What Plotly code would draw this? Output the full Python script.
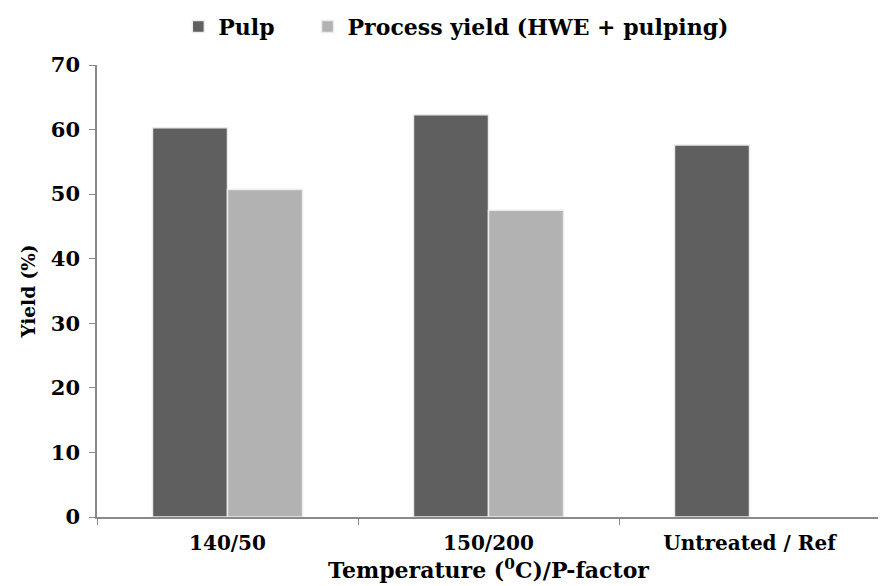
"""Pulp and process yield by pre-treatment condition"""
import plotly.graph_objects as go

categories = ["140/50", "150/200", "Untreated / Ref"]
pulp = [60.3, 62.3, 57.6]
process_yield = [50.7, 47.5, None]
y_ticks = [0, 10, 20, 30, 40, 50, 60, 70]

FONT = "DejaVu Serif"
AXIS_GREY = "#8a8a8a"
NBSP = "\u00a0"

fig = go.Figure()
fig.add_trace(
    go.Bar(
        x=categories,
        y=pulp,
        name="<b>Pulp</b>" + NBSP * 4,
        marker=dict(color="#5f5f5f", line=dict(color="#ececec", width=1.5)),
    )
)
fig.add_trace(
    go.Bar(
        x=categories,
        y=process_yield,
        name="<b>Process yield (HWE + pulping)</b>",
        marker=dict(color="#b2b2b2", line=dict(color="#ececec", width=1.5)),
    )
)

# page body has an 8px margin, so margins are shifted to compensate
fig.update_layout(
    width=886,
    height=586,
    paper_bgcolor="white",
    plot_bgcolor="white",
    margin=dict(l=89, r=14, t=57, b=77, autoexpand=False),
    barmode="group",
    bargap=0.425,
    bargroupgap=0,
    font=dict(family=FONT, color="black", size=17),
    legend=dict(
        orientation="h",
        xref="container",
        x=0.506,
        xanchor="center",
        yref="container",
        y=0.968,
        yanchor="middle",
        font=dict(family=FONT, size=22),
        traceorder="normal",
    ),
    showlegend=True,
)

fig.update_xaxes(
    automargin=False,
    showline=True,
    linecolor=AXIS_GREY,
    linewidth=1.5,
    ticks="outside",
    tickson="boundaries",
    tickcolor=AXIS_GREY,
    ticklen=6,
    ticklabelstandoff=7,
    tickfont=dict(family=FONT, size=20),
    tickvals=categories,
    ticktext=[f"<b>{c}</b>" for c in categories],
    title=dict(
        text="<b>Temperature (<sup>0</sup>C)/P-factor</b>",
        font=dict(family=FONT, size=22),
        standoff=3,
    ),
)
fig.update_yaxes(
    automargin=False,
    range=[0, 70],
    tickvals=y_ticks,
    ticktext=[f"<b>{v}</b>" for v in y_ticks],
    showline=True,
    linecolor=AXIS_GREY,
    linewidth=1.5,
    ticks="outside",
    tickcolor=AXIS_GREY,
    ticklen=6,
    ticklabelstandoff=5,
    showgrid=False,
    zeroline=False,
    tickfont=dict(family=FONT, size=21),
    title=dict(text="<b>Yield (%)</b>", font=dict(family=FONT, size=18.5), standoff=10),
)

fig.write_html("out.html")
